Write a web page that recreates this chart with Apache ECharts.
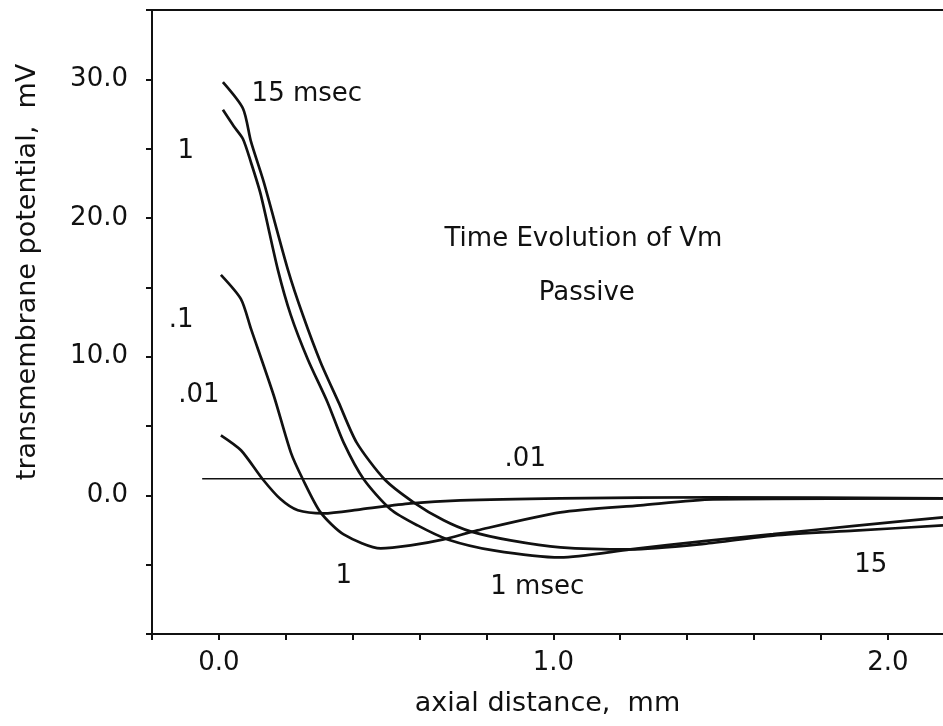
<!DOCTYPE html>
<html>
<head>
<meta charset="utf-8">
<script src="https://cdn.jsdelivr.net/npm/echarts@6/dist/echarts.min.js"></script>
<style>
  html, body { margin: 0; padding: 0; background: #fff; }
  #chart { width: 943px; height: 726px; }
</style>
</head>
<body>
<div id="chart"></div>
<script>
// [axial distance mm, potential mV]
const curve15ms = [
  [0.012, 29.8], [0.072, 27.9], [0.096, 25.5], [0.134, 22.6], [0.206, 16.3],
  [0.251, 13.0], [0.304, 9.6], [0.358, 6.7], [0.412, 3.8], [0.495, 1.16],
  [0.582, -0.5], [0.672, -1.8], [0.752, -2.6], [0.872, -3.25], [1.021, -3.75],
  [1.23, -3.9], [1.45, -3.5], [1.657, -2.9], [1.9, -2.55], [2.165, -2.17]
];
const curve1ms = [
  [0.012, 27.8], [0.045, 26.6], [0.072, 25.7], [0.096, 24.0], [0.125, 21.7],
  [0.176, 16.3], [0.215, 13.0], [0.266, 9.8], [0.325, 6.7], [0.373, 3.8],
  [0.433, 1.16], [0.513, -1.0], [0.594, -2.17], [0.684, -3.18], [0.821, -3.97],
  [1.021, -4.48], [1.23, -3.9], [1.45, -3.3], [1.657, -2.8], [1.9, -2.2], [2.165, -1.59]
];
const curve01ms = [
  [0.006, 15.9], [0.066, 14.15], [0.096, 12.0], [0.164, 7.2], [0.215, 3.1],
  [0.251, 1.16], [0.304, -1.23], [0.373, -2.82], [0.484, -3.83], [0.573, -3.61],
  [0.672, -3.18], [0.773, -2.53], [1.021, -1.23], [1.26, -0.72], [1.478, -0.29],
  [2.165, -0.22]
];
const curve001ms = [
  [0.006, 4.33], [0.066, 3.25], [0.131, 1.16], [0.185, -0.29], [0.236, -1.08],
  [0.313, -1.3], [0.424, -1.01], [0.573, -0.58], [0.722, -0.36], [1.021, -0.22],
  [1.478, -0.14], [2.165, -0.22]
];
const flatLine = [[-0.05, 1.2], [2.165, 1.2]];

// curve labels [x, y, text]
const annotations = [
  [0.263, 28.9, "15 msec"],
  [-0.099, 24.8, "1"],
  [1.09, 18.5, "Time Evolution of Vm"],
  [1.1, 14.6, "Passive"],
  [-0.113, 12.6, ".1"],
  [-0.06, 7.2, ".01"],
  [0.916, 2.6, ".01"],
  [0.373, -5.8, "1"],
  [0.952, -6.6, "1 msec"],
  [1.949, -5.05, "15"]
];

const ink = "#111";
const font = "DejaVu Sans";

const chart = echarts.init(document.getElementById("chart"));

const curveSeries = [curve15ms, curve1ms, curve01ms, curve001ms].map((d) => ({
  type: "line",
  data: d,
  smooth: 0.25,
  symbol: "none",
  lineStyle: { color: ink, width: 2.7 },
  z: 3,
}));

chart.setOption({
  backgroundColor: "#fff",
  animation: false,
  grid: { left: 152, right: 0, top: 10, bottom: 92 },
  xAxis: [
    {
      type: "value",
      min: -0.2,
      max: 2.165,
      interval: 0.2,
      name: "axial distance,  mm",
      nameLocation: "middle",
      nameGap: 56,
      nameTextStyle: { color: ink, fontSize: 27, fontFamily: font },
      axisLine: { onZero: false, lineStyle: { color: ink, width: 2 } },
      axisTick: { length: 6, lineStyle: { color: ink, width: 2 } },
      axisLabel: {
        color: ink,
        fontSize: 26,
        fontFamily: font,
        margin: 16,
        showMaxLabel: false,
        formatter: (v) => (v >= 0 && Math.abs(v - Math.round(v)) < 1e-6 ? v.toFixed(1) : ""),
      },
      splitLine: { show: false },
    },
    {
      type: "value",
      position: "top",
      min: -0.2,
      max: 2.165,
      axisLine: { show: true, onZero: false, lineStyle: { color: ink, width: 2 } },
      axisTick: { show: false },
      axisLabel: { show: false },
      splitLine: { show: false },
    },
  ],
  yAxis: {
    type: "value",
    min: -10,
    max: 35,
    interval: 5,
    axisLine: { show: true, onZero: false, lineStyle: { color: ink, width: 2 } },
    axisTick: { show: true, length: 6, lineStyle: { color: ink, width: 2 } },
    axisLabel: {
      color: ink,
      fontSize: 26,
      fontFamily: font,
      margin: 24,
      formatter: (v) => (v >= 0 && v <= 30 && v % 10 === 0 ? v.toFixed(1) : ""),
    },
    splitLine: { show: false },
  },
  graphic: [
    {
      type: "text",
      x: 28,
      y: 272,
      rotation: Math.PI / 2,
      style: {
        text: "transmembrane potential,  mV",
        fill: ink,
        font: "27px 'DejaVu Sans'",
        textAlign: "center",
        textVerticalAlign: "middle",
      },
    },
  ],
  series: [
    ...curveSeries,
    {
      type: "line",
      data: flatLine,
      symbol: "none",
      lineStyle: { color: ink, width: 1.4 },
      z: 2,
    },
    {
      type: "scatter",
      data: annotations.map((a) => ({ value: [a[0], a[1]], name: a[2] })),
      symbolSize: 0,
      itemStyle: { opacity: 1 },
      label: {
        show: true,
        position: "inside",
        formatter: (p) => p.name,
        color: ink,
        opacity: 1,
        fontSize: 26,
        fontFamily: font,
      },
      z: 4,
    },
  ],
});
</script>
</body>
</html>
